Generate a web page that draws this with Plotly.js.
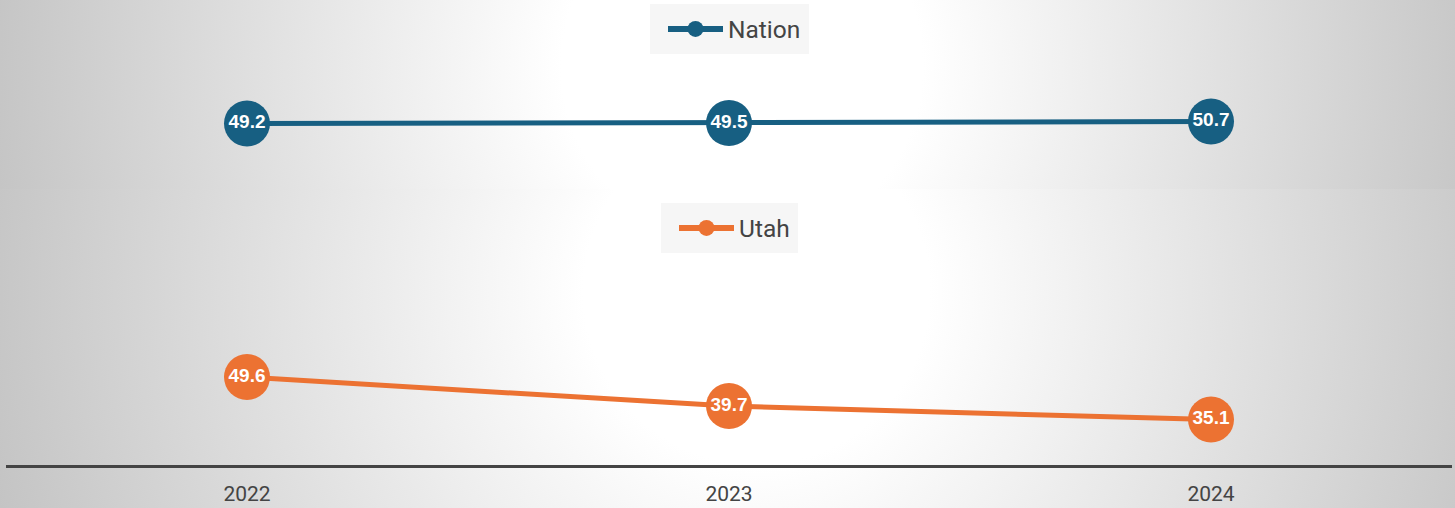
<!DOCTYPE html>
<html>
<head>
<meta charset="utf-8">
<script src="https://cdn.plot.ly/plotly-3.0.1.min.js"></script>
<style>
  html, body { margin: 0; padding: 0; width: 1455px; height: 508px; overflow: hidden; }
  #bgTop { position: absolute; left: 0; top: 0; width: 1455px; height: 189px;
    background: radial-gradient(circle at 51% 35%, #ffffff 0%, #ffffff 24%, #c5c5c5 100%); }
  #bgBottom { position: absolute; left: 0; top: 189px; width: 1455px; height: 319px;
    background: radial-gradient(circle at 52% 32%, #ffffff 0%, #ffffff 22%, #c4c4c4 100%); }
  #chart { position: absolute; left: 0; top: 0; width: 1455px; height: 508px; }
</style>
</head>
<body>
<div id="bgTop"></div>
<div id="bgBottom"></div>
<div id="chart"></div>
<script>
const years = ['2022', '2023', '2024'];
const nationValues = [49.2, 49.5, 50.7];
const utahValues = [49.6, 39.7, 35.1];
const seriesNames = ['Nation', 'Utah'];

const labelFont = { family: 'Liberation Sans, Arial, sans-serif', size: 19, color: '#ffffff', weight: 'bold' };

const traces = [
  {
    x: years, y: nationValues, name: seriesNames[0], type: 'scatter', mode: 'lines+markers+text',
    xaxis: 'x', yaxis: 'y2', legend: 'legend',
    line: { color: '#175f82', width: 5 },
    marker: { color: '#175f82', size: 46 },
    text: nationValues.map(v => v.toFixed(1)), textposition: 'middle center',
    textfont: labelFont, hoverinfo: 'skip', cliponaxis: false
  },
  {
    x: years, y: utahValues, name: seriesNames[1], type: 'scatter', mode: 'lines+markers+text',
    xaxis: 'x', yaxis: 'y', legend: 'legend2',
    line: { color: '#ec7232', width: 5 },
    marker: { color: '#ec7232', size: 46 },
    text: utahValues.map(v => v.toFixed(1)), textposition: 'middle center',
    textfont: labelFont, hoverinfo: 'skip', cliponaxis: false
  }
];

const split = 1 - 189 / 465;
const legendFont = { size: 24.5, color: '#444444', family: 'Roboto, sans-serif' };

const layout = {
  width: 1455, height: 508,
  margin: { l: 6, r: 3, t: 0, b: 43, pad: 0 },
  paper_bgcolor: 'rgba(0,0,0,0)',
  plot_bgcolor: 'rgba(0,0,0,0)',
  font: { family: 'Roboto, sans-serif', color: '#444444' },
  showlegend: true,
  xaxis: {
    type: 'category', range: [-0.5, 2.5], anchor: 'y',
    showline: true, linecolor: '#444444', linewidth: 3,
    showgrid: false, zeroline: false, ticks: '', ticklabelstandoff: 8,
    tickfont: { size: 21, color: '#444444', family: 'Roboto, sans-serif' }
  },
  yaxis: {
    domain: [0, split], range: [19.6, 113.8],
    visible: false, showgrid: false, zeroline: false
  },
  yaxis2: {
    domain: [split, 1], range: [0, 142],
    visible: false, showgrid: false, zeroline: false
  },
  legend: {
    x: 0.5, xanchor: 'center', y: 1 - 4 / 465, yanchor: 'top',
    bgcolor: '#f6f6f6', bordercolor: '#f6f6f6', borderwidth: 2.5,
    font: legendFont, itemwidth: 66
  },
  legend2: {
    x: 0.5, xanchor: 'center', y: 1 - 203 / 465, yanchor: 'top',
    bgcolor: '#f6f6f6', bordercolor: '#f6f6f6', borderwidth: 2.5,
    font: legendFont, itemwidth: 66
  }
};

Plotly.newPlot('chart', traces, layout, { displayModeBar: false, staticPlot: true }).then(function (gd) {
  gd.querySelectorAll('g.legendlines path').forEach(function (p) { p.setAttribute('d', 'M16,0h55'); p.style.strokeWidth = '6px'; });
  gd.querySelectorAll('g.legendpoints path.scatterpts').forEach(function (p) { p.setAttribute('transform', 'translate(43.5,0)'); });
  gd.querySelectorAll('g.legendpoints g.pointtext').forEach(function (g) { g.remove(); });
});
</script>
</body>
</html>
